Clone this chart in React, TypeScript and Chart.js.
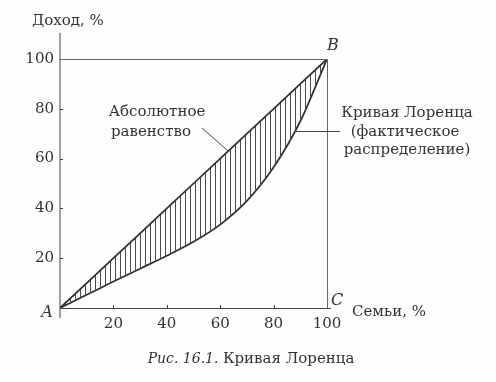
import React, { useEffect, useRef } from 'react';
import { Chart, registerables } from 'chart.js';

Chart.register(...registerables);

// ---- data ----
const familyShare = [0, 10, 20, 30, 40, 50, 60, 70, 80, 90, 100];
const equalityIncome = [0, 10, 20, 30, 40, 50, 60, 70, 80, 90, 100];
const lorenzIncome = [0, 5.3, 10.6, 15.8, 21, 26.6, 33.5, 43, 56.5, 75, 100];
const xTickValues = [20, 40, 60, 80, 100];
const yTickValues = [20, 40, 60, 80, 100];
const yAxisTitle = 'Доход, %';
const xAxisTitle = 'Семьи, %';
const equalityLabel = ['Абсолютное', 'равенство'];
const lorenzLabel = ['Кривая Лоренца', '(фактическое', 'распределение)'];
const cornerLabels = ['A', 'B', 'C'];
const captionNumber = 'Рис. 16.1.';
const captionText = 'Кривая Лоренца';
// annotation anchors (data values on the lines)
const equalityAnchor = { x: 63, y: 63 };
const lorenzAnchor = { x: 88, y: 71 };

const FONT = '"DejaVu Serif", "Liberation Serif", serif';
const INK = '#333333';

function makeHatch(): CanvasPattern | string {
  const c = document.createElement('canvas');
  c.width = 5;
  c.height = 10;
  const g = c.getContext('2d');
  if (!g) return '#ccc';
  g.strokeStyle = '#4a4a4a';
  g.lineWidth = 1;
  g.beginPath();
  g.moveTo(0.5, 0);
  g.lineTo(0.5, 10);
  g.stroke();
  return g.createPattern(c, 'repeat') || '#ccc';
}

const decorPlugin = {
  id: 'decor',
  afterDraw(chart: any) {
    const ctx: CanvasRenderingContext2D = chart.ctx;
    const xs = chart.scales.x;
    const ys = chart.scales.y;
    const { left, right, top, bottom } = chart.chartArea;
    ctx.save();

    // frame lines
    ctx.strokeStyle = '#444';
    ctx.lineWidth = 1;
    ctx.beginPath();
    ctx.moveTo(left, 33);
    ctx.lineTo(left, bottom + 10);
    ctx.moveTo(left, bottom + 0.5);
    ctx.lineTo(right + 4, bottom + 0.5);
    ctx.stroke();

    ctx.strokeStyle = '#666';
    ctx.beginPath();
    ctx.moveTo(left, top + 0.5);
    ctx.lineTo(right, top + 0.5);
    ctx.moveTo(right + 0.5, top);
    ctx.lineTo(right + 0.5, bottom);
    ctx.stroke();

    // small tick marks
    ctx.strokeStyle = '#444';
    ctx.beginPath();
    yTickValues.forEach((v) => {
      if (v >= 100) return;
      const y = Math.round(ys.getPixelForValue(v)) + 0.5;
      ctx.moveTo(left, y);
      ctx.lineTo(left + 3, y);
    });
    xTickValues.forEach((v) => {
      if (v >= 100) return;
      const x = Math.round(xs.getPixelForValue(v)) + 0.5;
      ctx.moveTo(x, bottom);
      ctx.lineTo(x, bottom - 3);
    });
    ctx.stroke();

    // leader lines
    ctx.strokeStyle = '#444';
    ctx.beginPath();
    const ex = xs.getPixelForValue(equalityAnchor.x);
    const ey = ys.getPixelForValue(equalityAnchor.y);
    ctx.moveTo(left + 142, top + 69);
    ctx.lineTo(ex, ey);
    const lx = xs.getPixelForValue(lorenzAnchor.x);
    const ly = Math.round(ys.getPixelForValue(lorenzAnchor.y)) + 0.5;
    ctx.moveTo(lx, ly);
    ctx.lineTo(right + 13, ly);
    ctx.stroke();

    // texts
    ctx.fillStyle = INK;
    ctx.textBaseline = 'middle';
    ctx.font = `15px ${FONT}`;
    ctx.textAlign = 'left';
    ctx.fillText(yAxisTitle, left - 28, 21);
    ctx.fillText(xAxisTitle, right + 25, bottom + 4);

    ctx.textAlign = 'center';
    ctx.fillText(equalityLabel[0], left + 97, top + 53);
    ctx.fillText(equalityLabel[1], left + 91, top + 73);
    ctx.fillText(lorenzLabel[0], right + 80, top + 54);
    ctx.fillText(lorenzLabel[1], right + 78, top + 73);
    ctx.fillText(lorenzLabel[2], right + 80, top + 91);

    ctx.font = `italic 16px ${FONT}`;
    ctx.fillText(cornerLabels[0], left - 13, bottom + 5);
    ctx.fillText(cornerLabels[1], right + 6, top - 13);
    ctx.fillText(cornerLabels[2], right + 10, bottom - 7);

    // caption
    ctx.textAlign = 'left';
    ctx.font = `italic 14px ${FONT}`;
    const w1 = ctx.measureText(captionNumber + ' ').width;
    ctx.font = `15px ${FONT}`;
    const w2 = ctx.measureText(captionText).width;
    const startX = 251 - (w1 + w2) / 2;
    ctx.font = `italic 14px ${FONT}`;
    ctx.fillText(captionNumber, startX, 359);
    ctx.font = `15px ${FONT}`;
    ctx.fillText(captionText, startX + w1, 359);

    ctx.restore();
  },
};

const bgPlugin = {
  id: 'bg',
  beforeDraw(chart: any) {
    const ctx = chart.ctx;
    ctx.save();
    ctx.fillStyle = '#fefdfe';
    ctx.fillRect(0, 0, chart.width, chart.height);
    ctx.restore();
  },
};

export default function App() {
  const ref = useRef<HTMLCanvasElement | null>(null);

  useEffect(() => {
    if (!ref.current) return;
    const hatch = makeHatch();
    const chart = new Chart(ref.current, {
      type: 'line',
      data: {
        datasets: [
          {
            label: 'Абсолютное равенство',
            data: familyShare.map((x, i) => ({ x, y: equalityIncome[i] })),
            borderColor: '#2e2e2e',
            borderWidth: 1.7,
            pointRadius: 0,
            fill: '+1',
            backgroundColor: hatch as any,
          },
          {
            label: 'Кривая Лоренца',
            data: familyShare.map((x, i) => ({ x, y: lorenzIncome[i] })),
            borderColor: '#2e2e2e',
            borderWidth: 1.7,
            pointRadius: 0,
            cubicInterpolationMode: 'monotone',
            fill: false,
          },
        ],
      },
      options: {
        animation: false,
        responsive: false,
        maintainAspectRatio: false,
        layout: { padding: { top: 59, right: 169, left: 0, bottom: 0 } },
        plugins: { legend: { display: false }, tooltip: { enabled: false } },
        scales: {
          x: {
            type: 'linear',
            min: 0,
            max: 100,
            afterBuildTicks: (s: any) => {
              s.ticks = xTickValues.map((v) => ({ value: v }));
            },
            afterFit: (s: any) => {
              s.height = 74;
            },
            grid: { display: false, drawTicks: false },
            border: { display: false },
            ticks: {
              font: { family: FONT, size: 15 },
              color: INK,
              padding: 7,
              maxRotation: 0,
              autoSkip: false,
            },
          },
          y: {
            type: 'linear',
            min: 0,
            max: 100,
            afterBuildTicks: (s: any) => {
              s.ticks = yTickValues.map((v) => ({ value: v }));
            },
            afterFit: (s: any) => {
              s.width = 60;
            },
            grid: { display: false, drawTicks: false },
            border: { display: false },
            ticks: {
              font: { family: FONT, size: 15 },
              color: INK,
              padding: 6,
              autoSkip: false,
            },
          },
        },
      },
      plugins: [bgPlugin, decorPlugin],
    } as any);
    return () => chart.destroy();
  }, []);

  return (
    <div style={{ position: 'fixed', left: 0, top: 0, width: 496, height: 382 }}>
      <canvas ref={ref} width={496} height={382} style={{ display: 'block' }} />
    </div>
  );
}
